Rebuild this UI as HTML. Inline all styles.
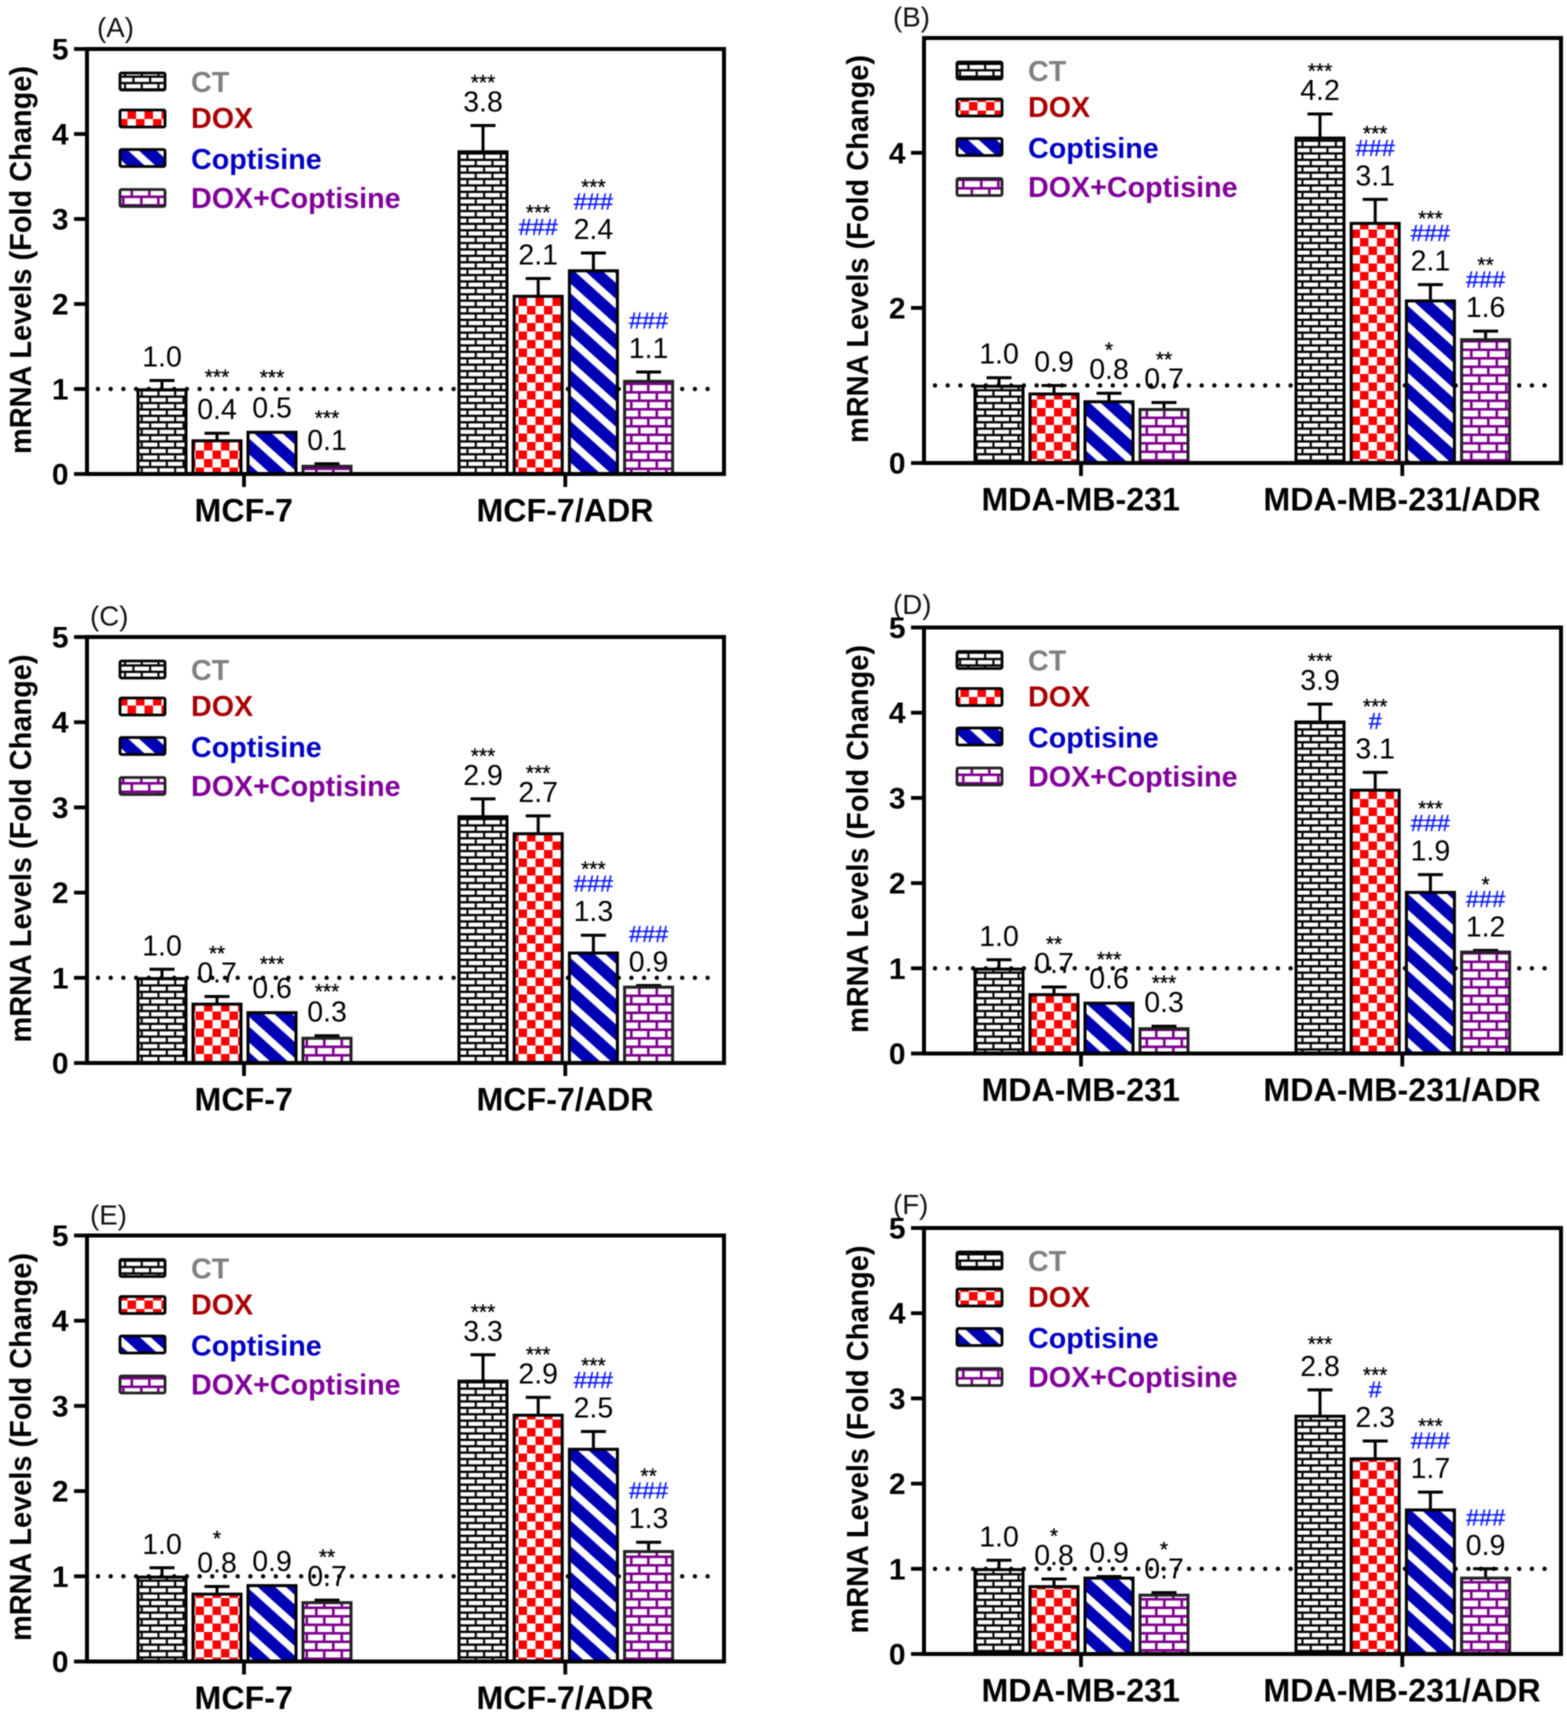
<!DOCTYPE html>
<html lang="en">
<head>
<meta charset="utf-8">
<title>mRNA Levels Fold Change Panels</title>
<style>
html,body{margin:0;padding:0;background:#fff;width:1567px;height:1712px;overflow:hidden}
#figure{display:block;width:1567px;height:1712px;filter:blur(0.6px)}
text{font-family:"Liberation Sans",Arial,sans-serif}
</style>
</head>
<body>
<svg id="figure" xmlns="http://www.w3.org/2000/svg" width="1567" height="1712" viewBox="0 0 1567 1712">
<defs>
<pattern id="fill-brick-black" patternUnits="userSpaceOnUse" width="33.4" height="12.8">
<rect width="33.4" height="12.8" fill="#000"/>
<rect x="0.9" y="1" width="14.6" height="4.1" fill="#fff"/><rect x="17.6" y="1" width="14.6" height="4.1" fill="#fff"/>
<rect x="-7.5" y="7.4" width="14.6" height="4.1" fill="#fff"/><rect x="9.2" y="7.4" width="14.6" height="4.1" fill="#fff"/><rect x="25.9" y="7.4" width="14.6" height="4.1" fill="#fff"/>
</pattern>
<pattern id="fill-check-red" patternUnits="userSpaceOnUse" width="17" height="17">
<rect width="17" height="17" fill="#fff"/>
<rect width="8.5" height="8.5" fill="#f00"/><rect x="8.5" y="8.5" width="8.5" height="8.5" fill="#f00"/>
</pattern>
<pattern id="fill-stripe-blue" patternUnits="userSpaceOnUse" width="19" height="19" patternTransform="rotate(42)">
<rect width="19" height="19" fill="#0000b4"/>
<rect width="19" height="7.2" fill="#fff"/>
</pattern>
<pattern id="fill-brick-purple" patternUnits="userSpaceOnUse" width="35" height="17">
<rect width="35" height="17" fill="#fff"/>
<rect y="0" width="35" height="2.6" fill="#800090"/><rect y="8.5" width="35" height="2.6" fill="#800090"/>
<rect x="8" y="0" width="2.6" height="8.5" fill="#800090"/><rect x="25.5" y="0" width="2.6" height="8.5" fill="#800090"/>
<rect x="0" y="8.5" width="2.6" height="8.5" fill="#800090"/><rect x="17" y="8.5" width="2.6" height="8.5" fill="#800090"/>
</pattern>
</defs>
</svg>
<script>
// ---- chart data ----
const seriesNames = ['CT', 'DOX', 'Coptisine', 'DOX+Coptisine'];
const seriesColors = ['#808080', '#a80000', '#0000c4', '#800099'];
const seriesFills = ['fill-brick-black', 'fill-check-red', 'fill-stripe-blue', 'fill-brick-purple'];
const seriesStrokes = ['#000', '#000', '#000', '#222'];
const mcfGroups = ['MCF-7', 'MCF-7/ADR'];
const mdaGroups = ['MDA-MB-231', 'MDA-MB-231/ADR'];
const yTitle = 'mRNA Levels (Fold Change)';
const referenceLevel = 1;
const ticksFive = [0, 1, 2, 3, 4, 5];
const ticksEven = [0, 2, 4];

const valuesA = [1.0, 0.4, 0.5, 0.1, 3.8, 2.1, 2.4, 1.1];
const errorsA = [0.1, 0.08, 0, 0.02, 0.3, 0.2, 0.2, 0.1];
const starsA = ['', '***', '***', '***', '***', '***', '***', ''];
const hashesA = ['', '', '', '', '', '###', '###', '###'];

const valuesB = [1.0, 0.9, 0.8, 0.7, 4.2, 3.1, 2.1, 1.6];
const errorsB = [0.1, 0.1, 0.1, 0.08, 0.3, 0.3, 0.2, 0.1];
const starsB = ['', '', '*', '**', '***', '***', '***', '**'];
const hashesB = ['', '', '', '', '', '###', '###', '###'];

const valuesC = [1.0, 0.7, 0.6, 0.3, 2.9, 2.7, 1.3, 0.9];
const errorsC = [0.1, 0.08, 0, 0.02, 0.2, 0.2, 0.2, 0.01];
const starsC = ['', '**', '***', '***', '***', '***', '***', ''];
const hashesC = ['', '', '', '', '', '', '###', '###'];

const valuesD = [1.0, 0.7, 0.6, 0.3, 3.9, 3.1, 1.9, 1.2];
const errorsD = [0.1, 0.08, 0, 0.02, 0.2, 0.2, 0.2, 0.01];
const starsD = ['', '**', '***', '***', '***', '***', '***', '*'];
const hashesD = ['', '', '', '', '', '#', '###', '###'];

const valuesE = [1.0, 0.8, 0.9, 0.7, 3.3, 2.9, 2.5, 1.3];
const errorsE = [0.1, 0.08, 0, 0.02, 0.3, 0.2, 0.2, 0.1];
const starsE = ['', '*', '', '**', '***', '***', '***', '**'];
const hashesE = ['', '', '', '', '', '', '###', '###'];

const valuesF = [1.0, 0.8, 0.9, 0.7, 2.8, 2.3, 1.7, 0.9];
const errorsF = [0.1, 0.08, 0.01, 0.02, 0.3, 0.2, 0.2, 0.1];
const starsF = ['', '*', '', '*', '***', '***', '***', ''];
const hashesF = ['', '', '', '', '', '#', '###', '###'];

// ---- layout (frame of each panel) ----
const panels = [
  {id:'a', tag:'(A)', col:0, top:49, bottom:474, yMax:5, ticks:ticksFive, groups:mcfGroups, values:valuesA, errors:errorsA, stars:starsA, hashes:hashesA, tagX:97, tagY:37, lift:{1:13, 2:11, 3:3}},
  {id:'b', tag:'(B)', col:1, top:38, bottom:463, yMax:5.48, ticks:ticksEven, groups:mdaGroups, values:valuesB, errors:errorsB, stars:starsB, hashes:hashesB, tagX:893, tagY:26.5, lift:{}},
  {id:'c', tag:'(C)', col:0, top:637, bottom:1063, yMax:5, ticks:ticksFive, groups:mcfGroups, values:valuesC, errors:errorsC, stars:starsC, hashes:hashesC, tagX:90, tagY:625.5, lift:{2:5, 3:1}},
  {id:'d', tag:'(D)', col:1, top:627.5, bottom:1053.5, yMax:5, ticks:ticksFive, groups:mdaGroups, values:valuesD, errors:errorsD, stars:starsD, hashes:hashesD, tagX:893, tagY:614, lift:{}},
  {id:'e', tag:'(E)', col:0, top:1235.5, bottom:1661.5, yMax:5, ticks:ticksFive, groups:mcfGroups, values:valuesE, errors:errorsE, stars:starsE, hashes:hashesE, tagX:90, tagY:1224.5, lift:{1:5}},
  {id:'f', tag:'(F)', col:1, top:1228, bottom:1654, yMax:5, ticks:ticksFive, groups:mdaGroups, values:valuesF, errors:errorsF, stars:starsF, hashes:hashesF, tagX:893, tagY:1214, lift:{4:3}}
];

const NS = 'http://www.w3.org/2000/svg';
const root = document.getElementById('figure');

function add(parent, tag, attrs, name, content) {
  const el = document.createElementNS(NS, tag);
  for (const k in attrs) el.setAttribute(k, attrs[k]);
  
  
  if (content !== undefined) el.textContent = content;
  parent.appendChild(el);
  return el;
}

panels.forEach(function (p) {
  const shift = p.col === 1 ? 837 : 0;
  const left = 87 + shift;
  const right = 724 + shift;
  const g = add(root, 'g', {}, 'panel-' + p.id);
  const y = function (v) { return p.bottom - (v / p.yMax) * (p.bottom - p.top); };
  const barX = function (i) { return (i < 4 ? 137 + 55 * i : 458 + 55.2 * (i - 4)) + shift; };
  const barW = 50;

  add(g, 'text', {x: p.tagX, y: p.tagY, 'font-size': 27.7, fill: '#111'}, 'panel-label-' + p.id, p.tag);

  // y axis title
  const midY = (p.top + p.bottom) / 2 - 1.5;
  const titleX = 31 + shift;
  add(g, 'text', {x: titleX, y: midY, 'font-size': 31, 'font-weight': 'bold', 'text-anchor': 'middle', fill: '#000',
    textLength: 388, lengthAdjust: 'spacingAndGlyphs',
    transform: 'rotate(-90 ' + titleX + ' ' + midY + ')'}, 'y-axis-title', yTitle);

  // reference dotted line (behind the bars)
  add(g, 'line', {x1: left + 11, x2: right - 8, y1: y(referenceLevel), y2: y(referenceLevel), stroke: '#000',
    'stroke-width': 4.4, 'stroke-linecap': 'round', 'stroke-dasharray': '0 12.7'}, 'reference-line');

  // bars + error bars
  p.values.forEach(function (v, i) {
    const s = i % 4;
    const x = barX(i);
    const cx = x + barW / 2;
    const top = y(v);
    const suffix = s + '-group' + (i < 4 ? 1 : 2);
    const errTop = y(v + p.errors[i]);
    if (p.errors[i] > 0) {
      add(g, 'line', {x1: cx, x2: cx, y1: top, y2: errTop, stroke: '#000', 'stroke-width': 3}, 'error-stem-' + suffix);
      add(g, 'line', {x1: cx - 12.5, x2: cx + 12.5, y1: errTop, y2: errTop, stroke: '#000', 'stroke-width': 3}, 'error-cap-' + suffix);
    }
    add(g, 'rect', {x: x + 1, y: top + 0.8, width: barW - 2, height: p.bottom - top - 0.8, fill: 'url(#' + seriesFills[s] + ')',
      stroke: seriesStrokes[s], 'stroke-width': 3}, 'bar-' + seriesNames[s].toLowerCase().replace('+', '-') + '-group' + (i < 4 ? 1 : 2));

    // printed value and significance marks
    const base = errTop - 14;
    add(g, 'text', {x: cx, y: base, 'font-size': 28.5, 'text-anchor': 'middle', fill: '#000'}, 'value-label', v.toFixed(1));
    const hash = p.hashes[i];
    const star = p.stars[i];
    if (hash) {
      add(g, 'text', {x: cx, y: base - 29.5, 'font-size': 23.5, 'text-anchor': 'middle', fill: '#0a18ff', stroke: '#0a18ff', 'stroke-width': 0.35}, 'hash-mark', hash);
    }
    if (star) {
      const sy = (hash ? base - 45 : base - 22) - (p.lift[i] || 0);
      add(g, 'text', {x: cx, y: sy, 'font-size': 21, 'text-anchor': 'middle', fill: '#000', stroke: '#000', 'stroke-width': 0.3}, 'significance-mark', star);
    }
  });

  // frame
  add(g, 'rect', {x: left, y: p.top, width: right - left, height: p.bottom - p.top, fill: 'none', stroke: '#000', 'stroke-width': 4}, 'plot-frame');

  // y ticks
  p.ticks.forEach(function (t) {
    add(g, 'line', {x1: left - 13, x2: left, y1: y(t), y2: y(t), stroke: '#000', 'stroke-width': 3.8}, 'y-tick');
    add(g, 'text', {x: left - 18.5, y: y(t) + 10.5, 'font-size': 30, 'font-weight': 'bold', 'text-anchor': 'end', fill: '#000'}, 'y-tick-label', String(t));
  });

  // x ticks + labels
  p.groups.forEach(function (label, gi) {
    const gx = (barX(gi * 4) + barX(gi * 4 + 3) + barW) / 2 - 0.5;
    add(g, 'line', {x1: gx, x2: gx, y1: p.bottom, y2: p.bottom + 13, stroke: '#000', 'stroke-width': 3.8}, 'x-tick');
    add(g, 'text', {x: gx - 0.3, y: p.bottom + 47.6, 'font-size': 32.2, 'font-weight': 'bold', 'text-anchor': 'middle', fill: '#000'}, 'x-tick-label', label);
  });

  // legend
  const swatchOffsets = [24, 61, 100.5, 140.5];
  const textOffsets = [43, 79, 120, 159];
  seriesNames.forEach(function (name, s) {
    const e = add(g, 'g', {}, 'legend-entry');
    add(e, 'rect', {x: 120 + shift, y: p.top + swatchOffsets[s], width: 45, height: 17, rx: 1.5, fill: 'url(#' + seriesFills[s] + ')', stroke: seriesStrokes[s], 'stroke-width': 2.8}, 'legend-swatch');
    add(e, 'text', {x: 191 + shift, y: p.top + textOffsets[s], 'font-size': 28.7, 'font-weight': 'bold', fill: seriesColors[s]}, 'legend-label', name);
  });
});
</script>
</body>
</html>
